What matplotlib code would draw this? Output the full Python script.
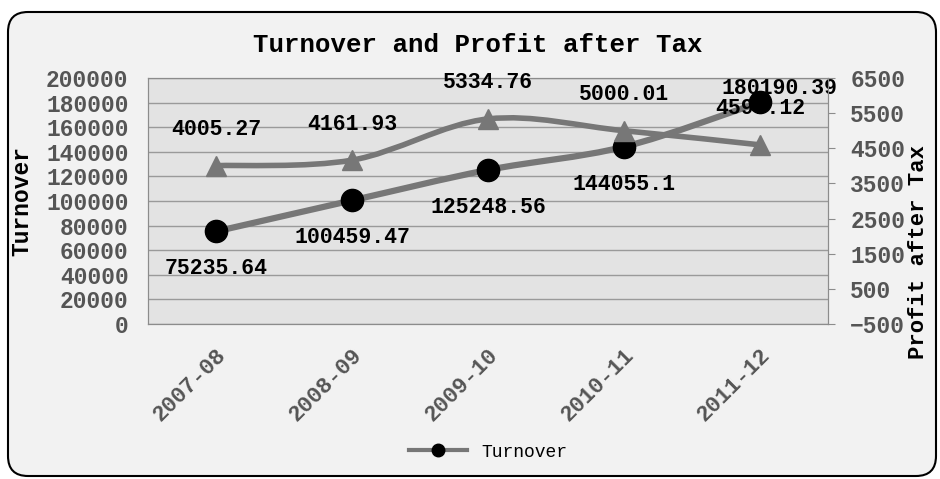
import matplotlib
matplotlib.use('Agg')
import matplotlib.pyplot as plt
import numpy as np
from matplotlib.patches import FancyBboxPatch, PathPatch
from matplotlib.path import Path
from matplotlib.lines import Line2D

years = ['2007-08', '2008-09', '2009-10', '2010-11', '2011-12']
turnover = [75235.64, 100459.47, 125248.56, 144055.1, 180190.39]
profit = [4005.27, 4161.93, 5334.76, 5000.01, 4597.12]
turnover_labels = ['75235.64', '100459.47', '125248.56', '144055.1', '180190.39']
profit_labels = ['4005.27', '4161.93', '5334.76', '5000.01', '4597.12']

plt.rcParams['font.family'] = ['Liberation Mono', 'DejaVu Sans Mono']
plt.rcParams['font.weight'] = 'bold'

LINE = '#777777'
TICK = '#555555'
EDGE = '#8c8c8c'


def smooth_path(xs, ys):
    # excel style smoothed line: catmull-rom turned into bezier segments
    pts = np.column_stack([xs, ys]).astype(float)
    n = len(pts)
    verts = [pts[0]]
    codes = [Path.MOVETO]
    for i in range(n - 1):
        p0 = pts[max(i - 1, 0)]
        p1 = pts[i]
        p2 = pts[i + 1]
        p3 = pts[min(i + 2, n - 1)]
        verts += [p1 + (p2 - p0) / 6.0, p2 - (p3 - p1) / 6.0, p2]
        codes += [Path.CURVE4] * 3
    return Path(verts, codes)


fig = plt.figure(figsize=(9.4, 4.79), dpi=100, facecolor='white')

box = FancyBboxPatch((0.08, 0.03), 9.28, 4.64,
                     boxstyle='round,pad=0,rounding_size=0.2',
                     transform=fig.dpi_scale_trans,
                     facecolor='#f2f2f2', edgecolor='black', lw=1.5, zorder=-5)
fig.add_artist(box)

ax = fig.add_axes([0.1574, 0.3236, 0.7234, 0.5136])
ax.set_facecolor('#e3e3e3')
x = np.arange(len(years))

ax.set_xlim(-0.5, 4.5)
ax.set_ylim(0, 200000)
ax.set_yticks(np.arange(0, 200001, 20000))
ax.set_yticklabels([str(v) for v in range(0, 200001, 20000)])
ax.tick_params(axis='y', length=0, pad=14, labelsize=16.5, labelcolor=TICK)
ax.set_xticks(x)
ax.set_xticklabels(years, rotation=45, ha='right', rotation_mode='anchor')
ax.tick_params(axis='x', length=0, pad=15, labelsize=16, labelcolor=TICK)
ax.grid(axis='y', color='#9a9a9a', lw=1)
ax.set_axisbelow(True)
for s in ax.spines.values():
    s.set_color(EDGE)

ax.add_patch(PathPatch(smooth_path(x, turnover), fill=False, edgecolor=LINE,
                       lw=4.5, capstyle='round', zorder=3))
ax.plot(x, turnover, 'o', color='black', ms=16, zorder=4)

for i, (xi, yi) in enumerate(zip(x, turnover)):
    if i == len(x) - 1:
        off = (14, 10)
    else:
        off = (0, -27)
    ax.annotate(turnover_labels[i], (xi, yi), xytext=off, textcoords='offset points',
                ha='center', va='center', fontsize=15.5, color='black', zorder=6)

ax.set_ylabel('Turnover', fontsize=16.5, fontweight='bold', color='black')
ax.yaxis.set_label_coords(-0.169, 0.5)

ax2 = ax.twinx()
ax2.set_ylim(-500, 6500)
ax2.set_yticks(np.arange(-500, 6501, 1000))
ax2.tick_params(axis='y', length=5, color=EDGE, pad=11, labelsize=16.5, labelcolor=TICK)
for s in ax2.spines.values():
    s.set_color(EDGE)

ax2.add_patch(PathPatch(smooth_path(x, profit), fill=False, edgecolor=LINE,
                        lw=4, capstyle='round', zorder=2))
ax2.plot(x, profit, '^', color=LINE, ms=14, zorder=2)
for i, (xi, yi) in enumerate(zip(x, profit)):
    ax2.annotate(profit_labels[i], (xi, yi), xytext=(0, 26), textcoords='offset points',
                 ha='center', va='center', fontsize=15.5, color='black', zorder=6)

fig.text(918 / 940, 1 - 252 / 479, 'Profit after Tax', rotation=90,
         ha='center', va='center', fontsize=16, fontweight='bold', color='black')

fig.suptitle('Turnover and Profit after Tax', x=478 / 940, y=1 - 45 / 479,
             va='center', fontsize=18.5, fontweight='bold', color='black')

handle = Line2D([], [], color=LINE, lw=3, marker='o', ms=9, mfc='black', mec='black')
fig.legend([handle], ['Turnover'], loc='center', bbox_to_anchor=(0.519, 0.056),
           frameon=False, handlelength=3.2, prop={'size': 13, 'weight': 'normal'})

fig.savefig('out.png', dpi=100, facecolor='white')
